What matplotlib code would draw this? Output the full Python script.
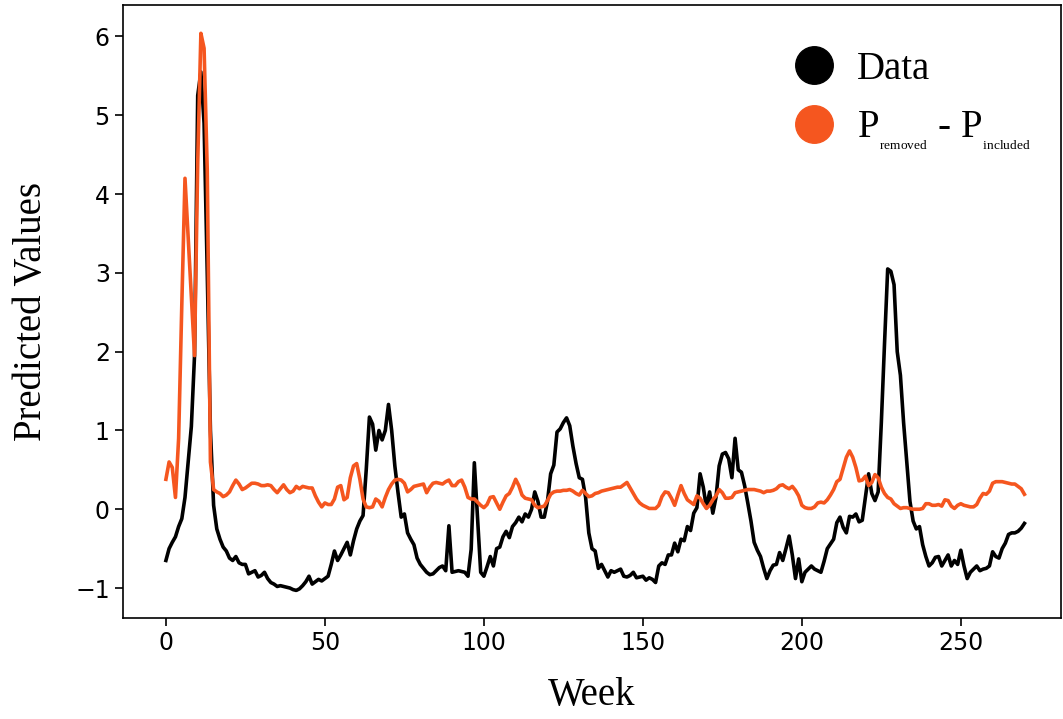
import matplotlib
matplotlib.use("Agg")
import matplotlib.pyplot as plt
from matplotlib.lines import Line2D

# weekly values
data_values = [
    -0.65, -0.50, -0.42, -0.35, -0.22, -0.12, 0.15, 0.60, 1.05, 1.95,
    5.25, 5.55, 4.90, 3.00, 1.00, 0.05, -0.25, -0.38, -0.48, -0.53,
    -0.62, -0.65, -0.60, -0.68, -0.70, -0.70, -0.82, -0.80, -0.78, -0.86,
    -0.84, -0.80, -0.88, -0.93, -0.95, -0.98, -0.97, -0.98, -0.99, -1.00,
    -1.02, -1.03, -1.01, -0.97, -0.92, -0.85, -0.95, -0.92, -0.89, -0.91,
    -0.88, -0.85, -0.70, -0.53, -0.65, -0.58, -0.50, -0.42, -0.58, -0.40,
    -0.25, -0.15, -0.08, 0.50, 1.17, 1.08, 0.75, 1.00, 0.88, 1.00,
    1.33, 1.00, 0.55, 0.21, -0.10, -0.06, -0.30, -0.38, -0.45, -0.62,
    -0.70, -0.75, -0.80, -0.83, -0.82, -0.78, -0.74, -0.72, -0.78, -0.21,
    -0.80, -0.79, -0.78, -0.79, -0.80, -0.85, -0.51, 0.59, -0.10, -0.80,
    -0.85, -0.73, -0.60, -0.72, -0.50, -0.48, -0.35, -0.28, -0.36, -0.22,
    -0.17, -0.10, -0.16, -0.06, -0.10, 0.00, 0.22, 0.10, -0.10, -0.10,
    0.10, 0.45, 0.56, 0.98, 1.02, 1.10, 1.16, 1.06, 0.80, 0.58,
    0.40, 0.38, 0.15, -0.30, -0.50, -0.53, -0.75, -0.70, -0.78, -0.86,
    -0.78, -0.80, -0.78, -0.76, -0.85, -0.86, -0.84, -0.80, -0.87, -0.86,
    -0.85, -0.90, -0.87, -0.89, -0.93, -0.72, -0.68, -0.70, -0.58, -0.58,
    -0.43, -0.54, -0.38, -0.40, -0.22, -0.27, -0.05, 0.02, 0.45, 0.28,
    0.02, 0.22, -0.05, 0.15, 0.55, 0.70, 0.72, 0.64, 0.40, 0.90,
    0.50, 0.47, 0.30, 0.08, -0.15, -0.42, -0.52, -0.60, -0.75, -0.88,
    -0.78, -0.71, -0.70, -0.55, -0.65, -0.50, -0.34, -0.58, -0.88, -0.63,
    -0.92, -0.80, -0.76, -0.72, -0.76, -0.78, -0.80, -0.66, -0.50, -0.44,
    -0.38, -0.17, -0.10, -0.23, -0.30, -0.09, -0.10, -0.06, -0.16, -0.14,
    0.15, 0.45, 0.20, 0.11, 0.22, 1.10, 2.10, 3.05, 3.02, 2.85,
    2.00, 1.70, 1.10, 0.60, 0.10, -0.15, -0.25, -0.22, -0.45, -0.60,
    -0.72, -0.68, -0.61, -0.60, -0.72, -0.65, -0.58, -0.72, -0.65, -0.70,
    -0.52, -0.72, -0.88, -0.80, -0.76, -0.72, -0.78, -0.76, -0.75, -0.72,
    -0.54, -0.60, -0.62, -0.50, -0.43, -0.32, -0.30, -0.30, -0.28, -0.24,
    -0.18,
]

diff_values = [
    0.38, 0.60, 0.53, 0.15, 0.90, 2.60, 4.20, 3.45, 2.70, 1.95,
    4.40, 6.04, 5.85, 4.30, 0.60, 0.25, 0.22, 0.20, 0.16, 0.18,
    0.22, 0.30, 0.37, 0.32, 0.25, 0.27, 0.30, 0.33, 0.33, 0.32,
    0.30, 0.30, 0.31, 0.30, 0.25, 0.21, 0.26, 0.31, 0.25, 0.21,
    0.23, 0.29, 0.26, 0.29, 0.28, 0.27, 0.27, 0.17, 0.09, 0.03,
    0.08, 0.06, 0.06, 0.13, 0.28, 0.30, 0.12, 0.15, 0.40, 0.55,
    0.58, 0.38, 0.13, 0.03, 0.02, 0.03, 0.13, 0.10, 0.03, 0.15,
    0.25, 0.32, 0.37, 0.38, 0.37, 0.33, 0.22, 0.25, 0.29, 0.30,
    0.31, 0.32, 0.21, 0.28, 0.33, 0.34, 0.33, 0.32, 0.35, 0.37,
    0.30, 0.30, 0.35, 0.37, 0.28, 0.15, 0.13, 0.13, 0.09, 0.05,
    0.02, 0.06, 0.15, 0.16, 0.08, 0.00, 0.09, 0.17, 0.20, 0.28,
    0.38, 0.30, 0.18, 0.14, 0.13, 0.12, 0.05, 0.02, 0.03, 0.04,
    0.11, 0.19, 0.22, 0.23, 0.23, 0.24, 0.24, 0.25, 0.23, 0.20,
    0.18, 0.24, 0.20, 0.16, 0.17, 0.20, 0.21, 0.23, 0.24, 0.25,
    0.26, 0.27, 0.28, 0.28, 0.31, 0.34, 0.27, 0.20, 0.13, 0.08,
    0.05, 0.03, 0.01, 0.01, 0.01, 0.05, 0.16, 0.22, 0.21, 0.14,
    0.05, 0.18, 0.30, 0.20, 0.12, 0.09, 0.06, 0.17, 0.14, 0.07,
    0.01, 0.05, 0.12, 0.17, 0.25, 0.21, 0.14, 0.14, 0.15, 0.21,
    0.22, 0.23, 0.24, 0.25, 0.25, 0.25, 0.24, 0.23, 0.21, 0.23,
    0.23, 0.24, 0.26, 0.30, 0.31, 0.28, 0.26, 0.29, 0.24, 0.17,
    0.05, 0.02, 0.01, 0.01, 0.03, 0.08, 0.09, 0.08, 0.12, 0.18,
    0.25, 0.35, 0.38, 0.52, 0.66, 0.74, 0.66, 0.53, 0.36, 0.37,
    0.42, 0.30, 0.34, 0.44, 0.40, 0.28, 0.20, 0.15, 0.13, 0.07,
    0.04, 0.01, 0.02, 0.02, 0.01, 0.00, 0.00, 0.00, 0.01, 0.07,
    0.07, 0.05, 0.05, 0.06, 0.04, 0.12, 0.11, 0.04, 0.01, 0.05,
    0.07, 0.05, 0.04, 0.03, 0.03, 0.06, 0.14, 0.20, 0.19, 0.23,
    0.33, 0.35, 0.35, 0.35, 0.34, 0.33, 0.32, 0.32, 0.29, 0.26,
    0.19,
]

weeks = list(range(len(data_values)))

orange = '#F5561F'
serif = 'Liberation Serif'

plt.rcParams['mathtext.fontset'] = 'custom'
plt.rcParams['mathtext.rm'] = serif
plt.rcParams['mathtext.it'] = serif + ':italic'

fig = plt.figure(figsize=(10.63, 7.19), dpi=100)
ax = fig.add_axes([0.1157, 0.1405, 0.8824, 0.8526])

ax.plot(weeks, data_values, color='black', lw=2.6)
ax.plot(weeks, diff_values, color=orange, lw=2.6)

ax.set_xlim(-13.5, 281.5)
ax.set_ylim(-1.38, 6.40)
ax.set_xticks([0, 50, 100, 150, 200, 250])
ax.set_yticks([-1, 0, 1, 2, 3, 4, 5, 6])
ax.tick_params(labelsize=17, length=6, width=1.2)
for s in ax.spines.values():
    s.set_linewidth(1.2)

ax.set_xlabel('Week', fontsize=28, family=serif, labelpad=16)
ax.set_ylabel('Predicted Values', fontsize=28, family=serif, labelpad=18)

handles = [
    Line2D([], [], ls='none', marker='o', ms=27, color='black'),
    Line2D([], [], ls='none', marker='o', ms=27, color=orange),
]
labels = ['Data', r'P$_{_{_{\mathrm{removed}}}}$ - P$_{_{_{\mathrm{included}}}}$']
ax.legend(handles, labels, loc='upper right', frameon=False,
          prop={'family': serif, 'size': 28}, handlelength=1.0,
          handletextpad=0.6, labelspacing=0.55,
          bbox_to_anchor=(1.005, 0.982))

fig.savefig('out.png', dpi=100)
